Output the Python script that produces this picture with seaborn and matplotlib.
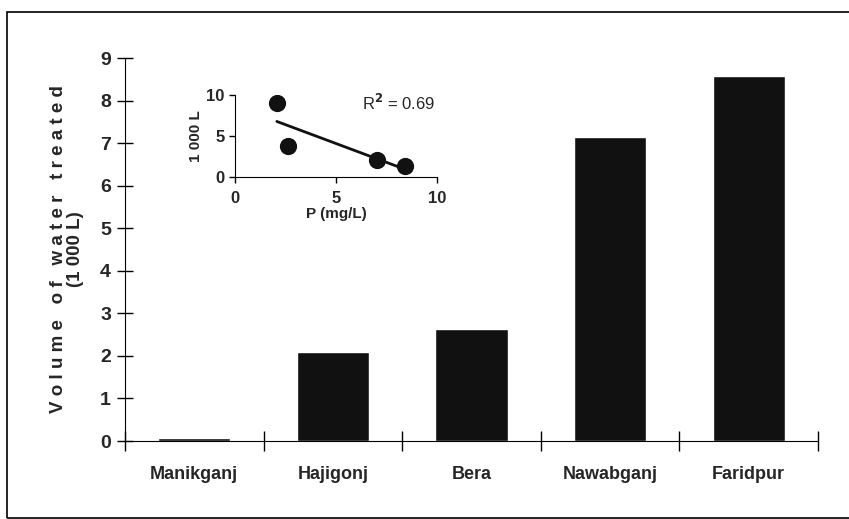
import matplotlib
matplotlib.use("Agg")
import matplotlib.pyplot as plt
import matplotlib.patches as mpatches
import seaborn as sns
import pandas as pd

# main bars
sites = ['Manikganj', 'Hajigonj', 'Bera', 'Nawabganj', 'Faridpur']
volume = [0.08, 2.09, 2.63, 7.14, 8.57]

# inset scatter
p_mgl = [2.07, 2.6, 7.03, 8.4]
vol_inset = [9.06, 3.84, 2.04, 1.3]
r2_text = 'R$^2$ = 0.69'

sns.set_style("white")
plt.rcParams['font.family'] = ['Liberation Sans', 'DejaVu Sans']
plt.rcParams['font.weight'] = 'bold'

df = pd.DataFrame({'site': sites, 'volume': volume})

fig = plt.figure(figsize=(8.49, 5.19), dpi=100)
ax = fig.add_axes([125 / 849, 1 - 441 / 519, (818 - 125) / 849, (441 - 58) / 519])
sns.barplot(x='site', y='volume', data=df, color='#111111', width=0.52,
            saturation=1, ax=ax)
ax.set_xlim(-0.5, 4.5)
ax.set_ylim(0, 9)
ax.set_yticks(range(10))
ax.set_xticks([-0.5, 0.5, 1.5, 2.5, 3.5, 4.5])
ax.set_xticklabels([])
ax.set_xticks(range(5), minor=True)
ax.set_xticklabels(sites, minor=True, fontsize=13, fontweight='bold')
ax.tick_params(axis='x', which='minor', bottom=False, length=0, pad=18)
ax.tick_params(axis='x', which='major', bottom=True, direction='inout', length=14,
               width=1, color='black')
ax.tick_params(axis='y', left=True, direction='inout', length=12, width=1, color='black',
               labelsize=14, pad=4)
for lab in ax.get_yticklabels():
    lab.set_fontweight('bold')
ax.set_xlabel('')
ax.set_ylabel('V o l u m e   o f   w a t e r   t r e a t e d\n(1 000 L)',
              fontsize=13.5, fontweight='bold', labelpad=12, linespacing=1.0)
for s in ['top', 'right']:
    ax.spines[s].set_visible(False)
ax.spines['left'].set_color('black')
ax.spines['bottom'].set_color('black')

# inset
ins = fig.add_axes([235 / 849, 1 - 177 / 519, (437 - 235) / 849, (177 - 95) / 519])
sns.regplot(x=p_mgl, y=vol_inset, ci=None, ax=ins,
            scatter_kws={'s': 130, 'color': '#111111', 'alpha': 1, 'zorder': 3},
            line_kws={'color': '#111111', 'lw': 2})
ins.set_xlim(0, 10)
ins.set_ylim(0, 10)
ins.set_xticks([0, 5, 10])
ins.set_yticks([0, 5, 10])
ins.tick_params(axis='both', bottom=True, left=True, direction='out', length=4, width=1,
                color='black', labelsize=12)
ins.tick_params(axis='x', pad=6)
ins.set_xlabel('P (mg/L)', fontsize=11, fontweight='bold', labelpad=1)
ins.set_ylabel('1 000 L', fontsize=11, fontweight='bold', labelpad=2)
for s in ['top', 'right']:
    ins.spines[s].set_visible(False)
ins.spines['left'].set_color('black')
ins.spines['bottom'].set_color('black')
ins.patch.set_alpha(0)
ins.text(0.63, 0.9, r2_text, transform=ins.transAxes, fontsize=12,
         fontweight='normal', va='center')

# figure border
fig.patches.append(mpatches.Rectangle((7 / 849, 0.002), 1.0, 1 - 12 / 519 - 0.002,
                                      transform=fig.transFigure, fill=False,
                                      edgecolor='black', lw=1.2))

fig.savefig('out.png', dpi=100)
